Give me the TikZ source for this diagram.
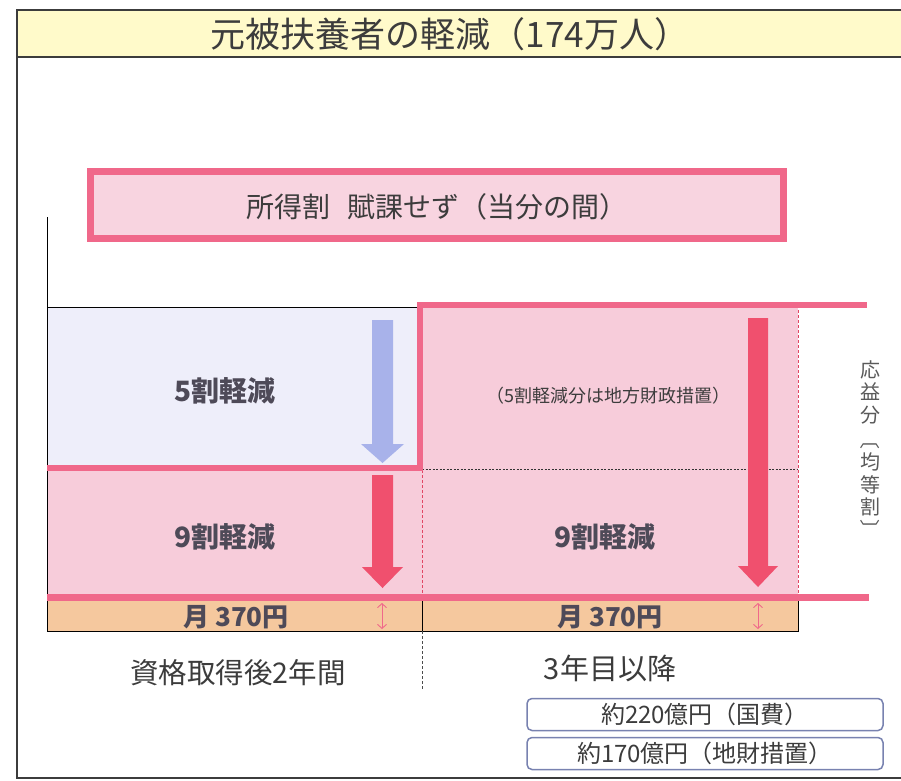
\documentclass[tikz,border=0pt]{standalone}
\usepackage{fontspec}
\setmainfont{Noto Sans CJK JP}
\usetikzlibrary{arrows.meta}
\definecolor{titleyellow}{RGB}{255,250,202}
\definecolor{framec}{RGB}{60,60,60}
\definecolor{txt}{RGB}{60,60,60}
\definecolor{vtxt}{RGB}{90,90,90}
\definecolor{boldtxt}{RGB}{78,74,88}
\definecolor{pinkline}{RGB}{240,104,138}
\definecolor{pinkfill}{RGB}{247,204,218}
\definecolor{pinkfilltwo}{RGB}{248,212,224}
\definecolor{lav}{RGB}{238,238,250}
\definecolor{bluearrow}{RGB}{168,178,234}
\definecolor{redarrow}{RGB}{240,80,110}
\definecolor{orangefill}{RGB}{245,200,158}
\definecolor{boxc}{RGB}{120,130,176}
\definecolor{dashred}{RGB}{225,70,100}
\tikzset{
  lbl/.style={text=txt, inner sep=0pt},
  boldlbl/.style={text=boldtxt, inner sep=0pt, font=\fontsize{28}{30}\selectfont\bfseries},
  moonlbl/.style={text=boldtxt, inner sep=0pt, font=\fontsize{26}{28}\selectfont\bfseries},
  costbox/.style={draw=boxc, line width=1.5pt, rounded corners=5pt, minimum width=356pt, minimum height=32pt, inner sep=0pt, text=txt, font=\fontsize{24}{26}\selectfont},
  dblarrow/.style={{Straight Barb[length=4pt,width=9pt]}-{Straight Barb[length=4pt,width=9pt]}, draw=pinkline, line width=0.9pt},
}
\newcommand{\vrot}[1]{\rotatebox[origin=c]{-90}{#1}}
\begin{document}
\begin{tikzpicture}[x=1pt,y=-1pt]
\useasboundingbox (0,0) rectangle (901,780);
\fill[white] (0,0) rectangle (901,780);
% title band and frame
\fill[titleyellow] (17,10) rectangle (901,57);
\draw[framec, line width=1.3pt] (901,10) -- (17,10) -- (17,778) -- (901,778);
\draw[framec, line width=1.3pt] (17,57) -- (901,57);
\node[lbl, font=\fontsize{35}{38}\selectfont] (title) at (450,34) {元被扶養者の軽減（174万人）};
% top pink box
\draw[pinkline, line width=7pt, fill=pinkfilltwo] (90.5,171.5) rectangle (783.5,238.5);
\node[lbl, font=\fontsize{28}{30}\selectfont] (shotoku) at (437,207) {所得割\hspace{18pt}賦課せず（当分の間）};
% fills
\fill[lav] (47,307) rectangle (417,468);
\fill[pinkfill] (47,468) rectangle (420,597);
\fill[pinkfill] (420,305) rectangle (798,597);
\fill[orangefill] (47,601) rectangle (798,631);
% axis and black lines
\draw[black, line width=0.9pt] (47,217) -- (47,631) -- (798,631) -- (798,601);
\draw[black, line width=0.9pt] (47,307) -- (417,307);
\draw[black, line width=0.8pt] (422,601) -- (422,631);
% dashed lines
\draw[dashred, line width=0.6pt, dash pattern=on 3pt off 2pt] (422,470) -- (422,597);
\draw[dashred, line width=0.6pt, dash pattern=on 3pt off 2pt] (798,310) -- (798,597);
\draw[black!80, line width=0.6pt, dash pattern=on 2pt off 1.5pt] (422,469) -- (798,469);
\draw[black!70, line width=0.6pt, dash pattern=on 3pt off 2pt] (422,631) -- (422,690);
% pink thick lines
\draw[pinkline, line width=6pt, line join=miter] (47,468) -- (420,468) -- (420,305) -- (867,305);
\draw[pinkline, line width=7pt] (47,597.5) -- (869,597.5);
% block arrows
\fill[bluearrow] (372,320) -- (393,320) -- (393,444) -- (404,444) -- (382.5,463) -- (361,444) -- (372,444) -- cycle;
\fill[redarrow] (372,475) -- (393,475) -- (393,567) -- (403,567) -- (382.5,588) -- (362,567) -- (372,567) -- cycle;
\fill[redarrow] (748,318) -- (768,318) -- (768,566) -- (778,566) -- (758,587) -- (738,566) -- (748,566) -- cycle;
% small double arrows
\coordinate (da1t) at (382,603);
\coordinate (da1b) at (382,629);
\coordinate (da2t) at (758,603);
\coordinate (da2b) at (758,629);
\draw[dblarrow] (da1t) -- (da1b);
\draw[dblarrow] (da2t) -- (da2b);
% labels
\node[boldlbl] (five) at (225,391) {5割軽減};
\node[lbl, font=\fontsize{18}{20}\selectfont] (chiho) at (608,396) {（5割軽減分は地方財政措置）};
\node[boldlbl] (nineL) at (225,537) {9割軽減};
\node[boldlbl] (nineR) at (605,537) {9割軽減};
\node[moonlbl] (moonL) at (236,617) {月 370円};
\node[moonlbl] (moonR) at (610,617) {月 370円};
\node[text=vtxt, inner sep=0pt, align=center, font=\fontsize{20}{22.3}\selectfont] (oueki) at (870,450) {応\\益\\分\\[3pt]\vrot{〔}\\均\\等\\割\\\vrot{〕}};
\node[lbl, font=\fontsize{28.5}{30}\selectfont] (shikaku) at (238,673) {資格取得後2年間};
\node[lbl, font=\fontsize{29}{30}\selectfont] (sannen) at (610,668) {3年目以降};
\node[costbox] (kokuhi) at (705,714.5) {約220億円（国費）};
\node[costbox] (chizai) at (705,753.5) {約170億円（地財措置）};
\end{tikzpicture}
\end{document}
